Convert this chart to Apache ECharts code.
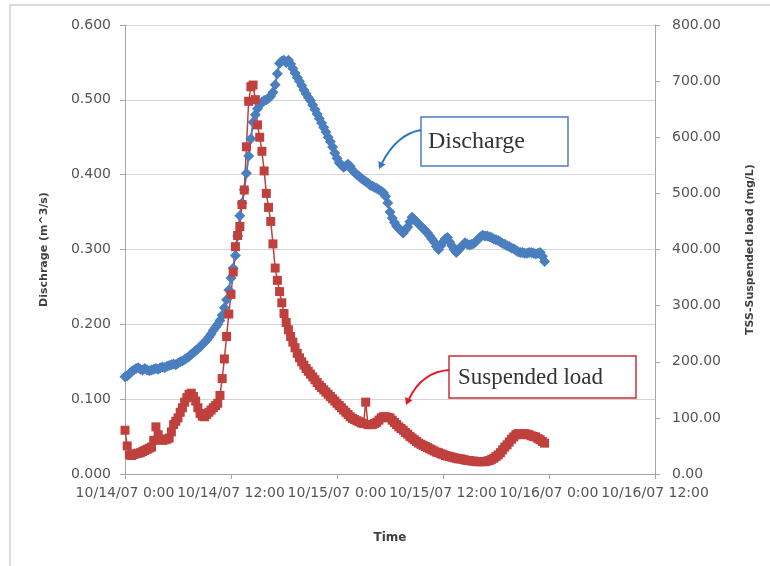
<!DOCTYPE html>
<html>
<head>
<meta charset="utf-8">
<script src="https://cdn.jsdelivr.net/npm/echarts@6/dist/echarts.min.js"></script>
<style>html,body{margin:0;padding:0;background:#fff;}#c{width:770px;height:566px;}</style>
</head>
<body>
<div id="c"></div>
<script>
// time in hours since 10/14/07 0:00 (readings every 15 min)
var hours = [
  0,0.25,0.5,0.75, 1,1.25,1.5,1.75, 2,2.25,2.5,2.75, 3,3.25,3.5,3.75, 4,4.25,4.5,4.75,
  5,5.25,5.5,5.75, 6,6.25,6.5,6.75, 7,7.25,7.5,7.75, 8,8.25,8.5,8.75, 9,9.25,9.5,9.75,
  10,10.25,10.5,10.75, 11,11.25,11.5,11.75, 12,12.25,12.5,12.75, 13,13.25,13.5,13.75, 14,14.25,14.5,14.75,
  15,15.25,15.5,15.75, 16,16.25,16.5,16.75, 17,17.25,17.5,17.75, 18,18.25,18.5,18.75, 19,19.25,19.5,19.75,
  20,20.25,20.5,20.75, 21,21.25,21.5,21.75, 22,22.25,22.5,22.75, 23,23.25,23.5,23.75, 24,24.25,24.5,24.75,
  25,25.25,25.5,25.75, 26,26.25,26.5,26.75, 27,27.25,27.5,27.75, 28,28.25,28.5,28.75, 29,29.25,29.5,29.75,
  30,30.25,30.5,30.75, 31,31.25,31.5,31.75, 32,32.25,32.5,32.75, 33,33.25,33.5,33.75, 34,34.25,34.5,34.75,
  35,35.25,35.5,35.75, 36,36.25,36.5,36.75, 37,37.25,37.5,37.75, 38,38.25,38.5,38.75, 39,39.25,39.5,39.75,
  40,40.25,40.5,40.75, 41,41.25,41.5,41.75, 42,42.25,42.5,42.75, 43,43.25,43.5,43.75, 44,44.25,44.5,44.75,
  45,45.25,45.5,45.75, 46,46.25,46.5,46.75, 47,47.25,47.5];

// Discharge (m^3/s)
var discharge = [
  0.130,0.131,0.134,0.137, 0.139,0.141,0.142,0.140, 0.139,0.141,0.139,0.138, 0.139,0.140,0.141,0.140, 0.142,0.143,0.142,0.144,
  0.145,0.146,0.147,0.146, 0.148,0.150,0.151,0.153, 0.155,0.157,0.160,0.162, 0.165,0.167,0.170,0.173, 0.176,0.179,0.183,0.187,
  0.192,0.196,0.200,0.205, 0.212,0.222,0.233,0.246, 0.262,0.275,0.292,0.318, 0.345,0.362,0.380,0.402, 0.425,0.448,0.470,0.480,
  0.488,0.493,0.497,0.499, 0.500,0.502,0.505,0.510, 0.520,0.535,0.549,0.552, 0.553,0.550,0.553,0.548, 0.542,0.536,0.530,0.525,
  0.519,0.513,0.508,0.503, 0.499,0.493,0.487,0.481, 0.475,0.469,0.463,0.457, 0.450,0.444,0.437,0.429, 0.422,0.416,0.413,0.410,
  0.412,0.414,0.411,0.406, 0.403,0.400,0.398,0.395, 0.393,0.391,0.389,0.386, 0.385,0.383,0.382,0.380, 0.378,0.376,0.371,0.362,
  0.350,0.342,0.336,0.331, 0.328,0.325,0.322,0.326, 0.330,0.337,0.343,0.340, 0.337,0.334,0.331,0.328, 0.325,0.322,0.318,0.314,
  0.310,0.304,0.300,0.305, 0.310,0.314,0.316,0.310, 0.305,0.300,0.296,0.299, 0.303,0.306,0.309,0.307, 0.306,0.307,0.308,0.311,
  0.314,0.317,0.319,0.318, 0.318,0.317,0.316,0.314, 0.313,0.312,0.310,0.308, 0.307,0.305,0.304,0.302, 0.301,0.299,0.297,0.296,
  0.296,0.295,0.295,0.296, 0.296,0.295,0.294,0.295, 0.296,0.291,0.284];

// TSS - Suspended load (mg/L)
var suspended = [
  78,50,34,33, 35,36,37,38, 40,42,44,46, 48,60,84,70, 62,60,61,62,
  64,75,88,94, 100,110,118,128, 136,142,144,138, 130,118,108,103, 102,106,110,114,
  118,122,126,140, 170,205,245,285, 320,360,405,425, 441,480,506,583, 664,690,693,667,
  622,600,575,540, 500,475,450,410, 367,345,325,305, 286,270,257,245, 235,225,215,207,
  200,194,188,183, 178,173,168,163, 158,154,150,146, 142,138,134,130, 126,122,118,114,
  110,106,102,99, 97,95,93,91, 90,128,88,88, 88,90,92,96, 100,102,102,101,
  100,96,92,88, 84,81,78,74, 71,67,64,61, 58,55,53,51, 49,47,45,43,
  41,39,38,36, 35,33,32,31, 30,29,28,27, 27,26,25,24, 24,23,23,22,
  22,22,22,22, 23,24,26,28, 31,34,38,43, 48,52,57,62, 66,70,72,71,
  70,72,71,70, 68,67,66,63, 61,58,55];

var xTickLabels = ["10/14/07 0:00","10/14/07 12:00","10/15/07 0:00","10/15/07 12:00","10/16/07 0:00","10/16/07 12:00"];
var leftName = "Dischrage (m^3/s)";
var rightName = "TSS-Suspended load (mg/L)";
var xName = "Time";

function pairs(xs, ys){ var out=[]; for (var i=0;i<xs.length;i++) out.push([xs[i], ys[i]]); return out; }

var chart = echarts.init(document.getElementById('c'), null, {renderer:'canvas'});
var labelFont = {fontFamily:'DejaVu Sans', fontSize:14, color:'#555555'};
var nameFont = {fontFamily:'DejaVu Sans', fontSize:11, fontWeight:'bold', color:'#404040'};
var axisLine = {show:true, lineStyle:{color:'#a6a6a6', width:1}};
var axisTick = {show:true, inside:false, length:5, lineStyle:{color:'#a6a6a6'}};

chart.setOption({
  animation:false,
  backgroundColor:'#ffffff',
  grid:{left:125, right:115, top:25, bottom:92, containLabel:false},
  xAxis:{
    type:'value', min:0, max:60, interval:12,
    name:xName, nameLocation:'middle', nameGap:58, nameTextStyle:Object.assign({}, nameFont, {fontSize:12}),
    axisLine:axisLine, axisTick:axisTick,
    axisLabel:Object.assign({margin:12, showMinLabel:true, showMaxLabel:true,
      formatter:function(v){ return xTickLabels[Math.round(v/12)]; }}, labelFont),
    splitLine:{show:false}
  },
  yAxis:[{
    type:'value', min:0, max:0.6, interval:0.1, position:'left',
    name:leftName, nameLocation:'middle', nameRotate:90, nameGap:75, nameTextStyle:nameFont,
    axisLine:axisLine, axisTick:axisTick,
    axisLabel:Object.assign({margin:14, formatter:function(v){return v.toFixed(3);}}, labelFont),
    splitLine:{show:true, lineStyle:{color:'#d4d4d4', width:1}}
  },{
    type:'value', min:0, max:800, interval:100, position:'right',
    name:rightName, nameLocation:'middle', nameRotate:90, nameGap:90, nameTextStyle:nameFont,
    axisLine:axisLine, axisTick:axisTick,
    axisLabel:Object.assign({margin:17, formatter:function(v){return v.toFixed(2);}}, labelFont),
    splitLine:{show:false}
  }],
  series:[{
    name:'Discharge', type:'line', yAxisIndex:0,
    data:pairs(hours, discharge),
    symbol:'diamond', symbolSize:11, showAllSymbol:true,
    itemStyle:{color:'#4a7ebf'}, lineStyle:{color:'#4a7ebf', width:2}
  },{
    name:'Suspended load', type:'line', yAxisIndex:1,
    data:pairs(hours, suspended),
    symbol:'rect', symbolSize:9, showAllSymbol:true,
    itemStyle:{color:'#c0403d'}, lineStyle:{color:'#c0403d', width:1.5}
  }],
  graphic:[
    {type:'rect', shape:{x:10, y:5, width:800, height:600}, style:{fill:null, stroke:'#cfcfcf', lineWidth:1.5}, silent:true, z:-1},
    // Discharge callout
    {type:'rect', shape:{x:421, y:117, width:147, height:49}, style:{fill:'#ffffff', stroke:'#4a7ebb', lineWidth:1.5}, z:100},
    {type:'text', x:428, y:142, style:{text:'Discharge', font:'24px "Liberation Serif"', fill:'#333333', textVerticalAlign:'middle'}, z:101},
    {type:'bezierCurve', shape:{x1:421, y1:130, cpx1:397, cpy1:134, x2:382, y2:163}, style:{stroke:'#2f77c4', lineWidth:2, fill:null}, z:100},
    {type:'polygon', shape:{points:[[379,169],[385.6,164.4],[378.4,161]]}, style:{fill:'#2f77c4'}, z:100},
    // Suspended load callout
    {type:'rect', shape:{x:449, y:356, width:187, height:42}, style:{fill:'#ffffff', stroke:'#c8313a', lineWidth:1.5}, z:100},
    {type:'text', x:458, y:378, style:{text:'Suspended load', font:'23px "Liberation Serif"', fill:'#333333', textVerticalAlign:'middle'}, z:101},
    {type:'bezierCurve', shape:{x1:449, y1:370, cpx1:422, cpy1:372, x2:409, y2:399}, style:{stroke:'#e0202a', lineWidth:2, fill:null}, z:100},
    {type:'polygon', shape:{points:[[406,405],[412.5,400.2],[405.1,397]]}, style:{fill:'#e0202a'}, z:100}
  ]
});
</script>
</body>
</html>
